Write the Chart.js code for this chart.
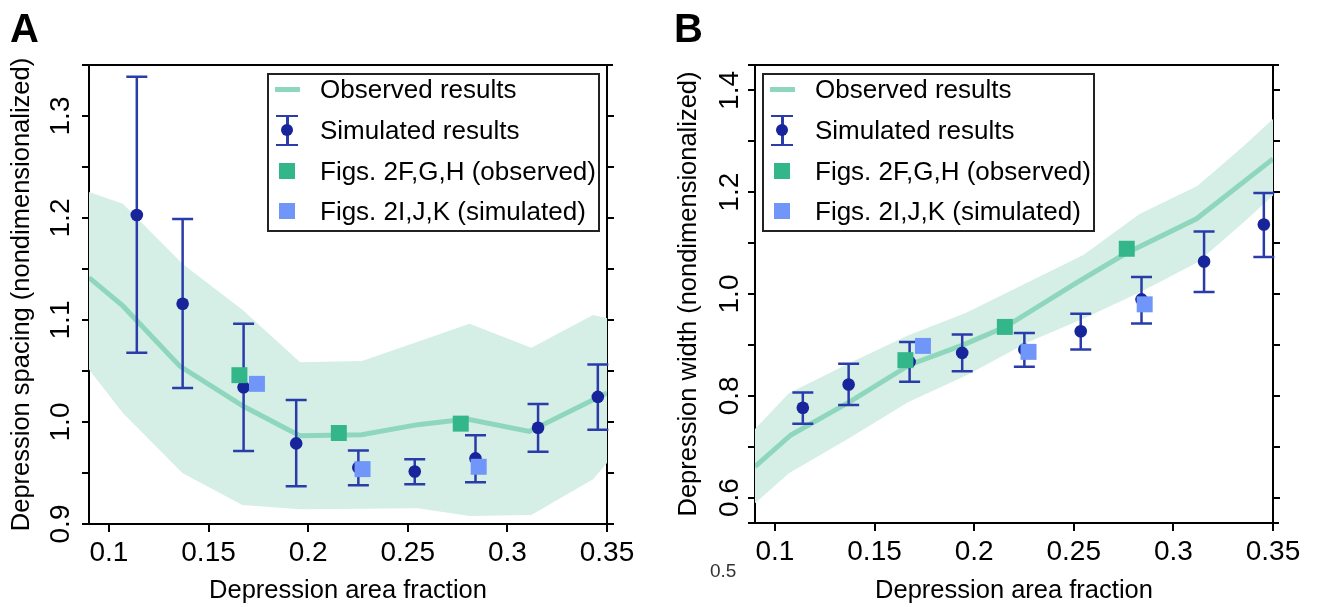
<!DOCTYPE html>
<html>
<head>
<meta charset="utf-8">
<script src="https://cdn.jsdelivr.net/npm/chart.js@4.4.1/dist/chart.umd.min.js"></script>
<style>
  html, body { margin: 0; padding: 0; background: #fff; }
  body { width: 1317px; height: 607px; position: relative; overflow: hidden;
         font-family: "Liberation Sans", Arial, Helvetica, sans-serif; color: #000; }
  canvas { position: absolute; top: 0; }
  #chartA { left: 0; }
  #chartB { left: 659px; }
  .tag { position: absolute; top: 8px; font-weight: bold; font-size: 40px; line-height: 40px; }
  .stray { position: absolute; left: 710px; top: 561px; font-size: 19px; line-height: 19px; color: #333; }
  .legend { position: absolute; top: 73px; width: 333px; height: 159px; box-sizing: border-box;
            border: 2px solid #222; background: #fff; }
  .legend .row { position: absolute; left: 0; width: 100%; height: 41px; line-height: 41px;
                 font-size: 26px; padding-left: 51px; box-sizing: border-box; white-space: nowrap; }
  .sw { position: absolute; }
  .sw-line { left: 6px; top: 18px; width: 25px; height: 5px; background: #8ed7bd; }
  .sw-sq { left: 10px; top: 12px; width: 16px; height: 16px; }
  .sw-bar { left: 17px; top: 6px; width: 2.5px; height: 29px; background: #2a3caa; }
  .sw-cap { left: 7px; width: 22px; height: 2.5px; background: #2a3caa; }
  .sw-dot { left: 12px; top: 14.5px; width: 12px; height: 12px; border-radius: 50%; background: #17249a; }
</style>
</head>
<body>
<canvas id="chartA" width="658" height="607"></canvas>
<canvas id="chartB" width="658" height="607"></canvas>

<div class="tag" style="left:10px">A</div>
<div class="tag" style="left:674px">B</div>
<div class="stray">0.5</div>

<div class="legend" style="left:267px">
  <div class="row" style="top:-6.5px"><span class="sw sw-line"></span>Observed results</div>
  <div class="row" style="top:34.5px"><span class="sw sw-bar"></span><span class="sw sw-cap" style="top:5px"></span><span class="sw sw-cap" style="top:34px"></span><span class="sw sw-dot"></span>Simulated results</div>
  <div class="row" style="top:75.5px"><span class="sw sw-sq" style="background:#34b68b"></span>Figs. 2F,G,H (observed)</div>
  <div class="row" style="top:115.5px"><span class="sw sw-sq" style="background:#7096fa"></span>Figs. 2I,J,K (simulated)</div>
</div>
<div class="legend" style="left:762px">
  <div class="row" style="top:-6.5px"><span class="sw sw-line"></span>Observed results</div>
  <div class="row" style="top:34.5px"><span class="sw sw-bar"></span><span class="sw sw-cap" style="top:5px"></span><span class="sw sw-cap" style="top:34px"></span><span class="sw sw-dot"></span>Simulated results</div>
  <div class="row" style="top:75.5px"><span class="sw sw-sq" style="background:#34b68b"></span>Figs. 2F,G,H (observed)</div>
  <div class="row" style="top:115.5px"><span class="sw sw-sq" style="background:#7096fa"></span>Figs. 2I,J,K (simulated)</div>
</div>

<script>
// ── Shared x positions / ticks ───────────────────────────────────────────────
const X_TICKS = [0.1, 0.15, 0.2, 0.25, 0.3, 0.35];
const SIM_X = [0.114, 0.137, 0.1676, 0.194, 0.2252, 0.2535, 0.284, 0.3154, 0.3454];
const FIG_OBS_X = [0.1655, 0.2154, 0.2766];
const FIG_SIM_X = [0.1743, 0.2273, 0.2856];

// ── Panel A — depression spacing ─────────────────────────────────────────────
const A_Y_TICKS = [0.9, 0.95, 1.0, 1.05, 1.1, 1.15, 1.2, 1.25, 1.3];
const A_Y_LABELS = ['0.9', '1.0', '1.1', '1.2', '1.3'];
const A_SIM = [1.203, 1.116, 1.034, 0.979, 0.9554, 0.9515, 0.9643, 0.9944, 1.0246];
const A_SIM_HI = [1.3385, 1.199, 1.0964, 1.0216, 0.9721, 0.9636, 0.9869, 1.0177, 1.0564];
const A_SIM_LO = [1.068, 1.0334, 0.9715, 0.937, 0.938, 0.939, 0.941, 0.9708, 0.9925];
const A_FIG_OBS = [1.0459, 0.9892, 0.9984];
const A_FIG_SIM = [1.0374, 0.9538, 0.9561];
const A_LINE_X = [0.09, 0.107, 0.1356, 0.1675, 0.1958, 0.2268, 0.255, 0.2797, 0.311, 0.35];
const A_LINE = [1.1416, 1.1138, 1.0548, 1.0154, 0.9866, 0.9875, 0.9974, 1.003, 0.9908, 1.0285];
const A_BAND_X = [0.09, 0.107, 0.137, 0.167, 0.196, 0.227, 0.255, 0.281, 0.312, 0.343, 0.35];
const A_BAND_HI = [1.2255, 1.214, 1.155, 1.110, 1.0587, 1.0597, 1.0786, 1.0964, 1.0728, 1.105, 1.102];
const A_BAND_LO = [1.0515, 1.0089, 0.9498, 0.9187, 0.9144, 0.915, 0.9154, 0.9079, 0.9089, 0.9439, 0.9597];

// ── Panel B — depression width ───────────────────────────────────────────────
const B_Y_TICKS = [0.6, 0.7, 0.8, 0.9, 1.0, 1.1, 1.2, 1.3, 1.4];
const B_Y_LABELS = ['0.6', '0.8', '1.0', '1.2', '1.4'];
const B_SIM = [0.7765, 0.8222, 0.8667, 0.8843, 0.8908, 0.9268, 0.9895, 1.064, 1.1366];
const B_SIM_HI = [0.8065, 0.8627, 0.9059, 0.9203, 0.9235, 0.9614, 1.0333, 1.1229, 1.1987];
const B_SIM_LO = [0.745, 0.7817, 0.8275, 0.8484, 0.8569, 0.8908, 0.9418, 1.0039, 1.0725];
const B_FIG_OBS = [0.870, 0.9353, 1.0889];
const B_FIG_SIM = [0.898, 0.8863, 0.9797];
const B_LINE_X = [0.09, 0.108, 0.1375, 0.1677, 0.1939, 0.2155, 0.2519, 0.2758, 0.3116, 0.35];
const B_LINE = [0.661, 0.723, 0.788, 0.861, 0.899, 0.935, 1.0235, 1.079, 1.1477, 1.2654];
const B_BAND_X = [0.09, 0.107, 0.137, 0.167, 0.196, 0.227, 0.255, 0.283, 0.312, 0.335, 0.35];
const B_BAND_HI = [0.7346, 0.805, 0.8634, 0.919, 0.963, 1.023, 1.077, 1.157, 1.212, 1.29, 1.344];
const B_BAND_LO = [0.589, 0.648, 0.716, 0.788, 0.840, 0.905, 0.952, 1.003, 1.062, 1.14, 1.1935];

// ── Styles ───────────────────────────────────────────────────────────────────
const FONT = '"Liberation Sans", Arial, Helvetica, sans-serif';
const BAND_COLOR = '#d5efe6';
const LINE_COLOR = '#8ed7bd';
const GREEN_SQ = '#34b68b';
const BLUE_SQ = '#7096fa';
const DOT_COLOR = '#17249a';
const ERR_COLOR = '#2a3caa';
const CAP = 10.5;

const pts = (xs, ys) => xs.map((x, i) => ({ x, y: ys[i] }));

// error bars drawn under the dots, through the chart scales
const errorBars = {
  id: 'errorBars',
  beforeDatasetDraw(chart, args) {
    const ds = chart.data.datasets[args.index];
    if (!ds.errHi) return;
    const { ctx, scales: { x, y } } = chart;
    ctx.save();
    ctx.strokeStyle = ERR_COLOR;
    ctx.lineWidth = 2.5;
    ds.data.forEach((p, i) => {
      const px = x.getPixelForValue(p.x);
      const top = y.getPixelForValue(ds.errHi[i]);
      const bot = y.getPixelForValue(ds.errLo[i]);
      ctx.beginPath();
      ctx.moveTo(px, top); ctx.lineTo(px, bot);
      ctx.moveTo(px - CAP, top); ctx.lineTo(px + CAP, top);
      ctx.moveTo(px - CAP, bot); ctx.lineTo(px + CAP, bot);
      ctx.stroke();
    });
    ctx.restore();
  }
};

// top border + small overhangs of the box
const frame = {
  id: 'frame',
  afterDraw(chart) {
    const { ctx, chartArea: a } = chart;
    ctx.save();
    ctx.strokeStyle = '#000';
    ctx.lineWidth = 2;
    ctx.beginPath();
    ctx.moveTo(a.left - 7, a.top); ctx.lineTo(a.right + 6, a.top);
    ctx.moveTo(a.left - 7, a.bottom); ctx.lineTo(a.right + 6, a.bottom);
    ctx.stroke();
    ctx.restore();
  }
};

function buildPanel(id, p) {
  const setTicks = list => s => { s.ticks = list.map(v => ({ value: v })); };
  const yLabel = v => {
    const hit = p.yLabels.find(l => Math.abs(parseFloat(l) - v) < 1e-6);
    return hit || '';
  };
  return new Chart(document.getElementById(id), {
    type: 'scatter',
    data: {
      datasets: [
        { label: 'Figs. 2I,J,K (simulated)', data: pts(FIG_SIM_X, p.figSim), pointStyle: 'rect',
          pointRadius: 11.3, backgroundColor: BLUE_SQ, borderWidth: 0, order: 0 },
        { label: 'Figs. 2F,G,H (observed)', data: pts(FIG_OBS_X, p.figObs), pointStyle: 'rect',
          pointRadius: 11.3, backgroundColor: GREEN_SQ, borderWidth: 0, order: 1 },
        { label: 'Simulated results', data: pts(SIM_X, p.sim), errHi: p.simHi, errLo: p.simLo,
          pointRadius: 6.3, backgroundColor: DOT_COLOR, borderWidth: 0, order: 2 },
        { label: 'Observed results', data: pts(p.lineX, p.line), showLine: true,
          borderColor: LINE_COLOR, borderWidth: 5, pointRadius: 0, order: 3 },
        { label: 'band hi', data: pts(p.bandX, p.bandHi), showLine: true, fill: '+1',
          backgroundColor: BAND_COLOR, borderColor: 'rgba(0,0,0,0)', borderWidth: 0, pointRadius: 0, order: 4 },
        { label: 'band lo', data: pts(p.bandX, p.bandLo), showLine: true,
          borderColor: 'rgba(0,0,0,0)', borderWidth: 0, pointRadius: 0, order: 5 }
      ]
    },
    options: {
      responsive: false,
      animation: false,
      events: [],
      layout: { padding: { left: 0, top: 65, right: p.padRight, bottom: 0 } },
      plugins: { legend: { display: false }, tooltip: { enabled: false } },
      scales: {
        x: {
          type: 'linear', min: 0.09, max: 0.35,
          afterBuildTicks: setTicks(X_TICKS),
          afterFit: s => { s.height = p.xAxisH; s.paddingLeft = 0; s.paddingRight = 0; },
          ticks: { font: { family: FONT, size: 28 }, color: '#000', padding: 4, autoSkip: false,
                   maxRotation: 0, callback: v => String(Math.round(v * 100) / 100) },
          grid: { drawOnChartArea: false, tickLength: 8, color: '#000', lineWidth: 2 },
          border: { color: '#000', width: 2 },
          title: { display: true, text: 'Depression area fraction', color: '#000',
                   font: { family: FONT, size: 25.5 }, padding: { top: 0, bottom: 1 } }
        },
        y: {
          type: 'linear', position: 'left', min: p.yMin, max: p.yMax,
          afterBuildTicks: setTicks(p.yTicks),
          afterFit: s => { s.width = p.yAxisW; s.paddingTop = 0; s.paddingBottom = 0; },
          ticks: { font: { family: FONT, size: 28 }, color: '#000', padding: p.yTickPad, autoSkip: false,
                   minRotation: 90, maxRotation: 90, crossAlign: 'center', callback: yLabel },
          grid: { drawOnChartArea: false, tickLength: 7, color: '#000', lineWidth: 2 },
          border: { color: '#000', width: 2 },
          title: { display: true, text: p.yTitle, color: '#000',
                   font: { family: FONT, size: 25.5 }, padding: { top: p.yTitlePad, bottom: 0 } }
        },
        y2: {
          type: 'linear', position: 'right', min: p.yMin, max: p.yMax,
          afterBuildTicks: setTicks(p.yTicks),
          afterFit: s => { s.width = 8; s.paddingTop = 0; s.paddingBottom = 0; },
          ticks: { display: false },
          grid: { drawOnChartArea: false, tickLength: 7, color: '#000', lineWidth: 2 },
          border: { color: '#000', width: 2 }
        }
      }
    },
    plugins: [errorBars, frame]
  });
}

buildPanel('chartA', {
  yMin: 0.9, yMax: 1.35, yTicks: A_Y_TICKS, yLabels: A_Y_LABELS,
  sim: A_SIM, simHi: A_SIM_HI, simLo: A_SIM_LO, figObs: A_FIG_OBS, figSim: A_FIG_SIM,
  lineX: A_LINE_X, line: A_LINE, bandX: A_BAND_X, bandHi: A_BAND_HI, bandLo: A_BAND_LO,
  yTitle: 'Depression spacing (nondimensionalized)',
  yAxisW: 89, xAxisH: 83, padRight: 43, yTickPad: 1.5, yTitlePad: 7
});

buildPanel('chartB', {
  yMin: 0.55, yMax: 1.45, yTicks: B_Y_TICKS, yLabels: B_Y_LABELS,
  sim: B_SIM, simHi: B_SIM_HI, simLo: B_SIM_LO, figObs: B_FIG_OBS, figSim: B_FIG_SIM,
  lineX: B_LINE_X, line: B_LINE, bandX: B_BAND_X, bandHi: B_BAND_HI, bandLo: B_BAND_LO,
  yTitle: 'Depression width (nondimensionalized)',
  yAxisW: 96, xAxisH: 84, padRight: 36, yTickPad: -1.5, yTitlePad: 15
});
</script>
</body>
</html>
